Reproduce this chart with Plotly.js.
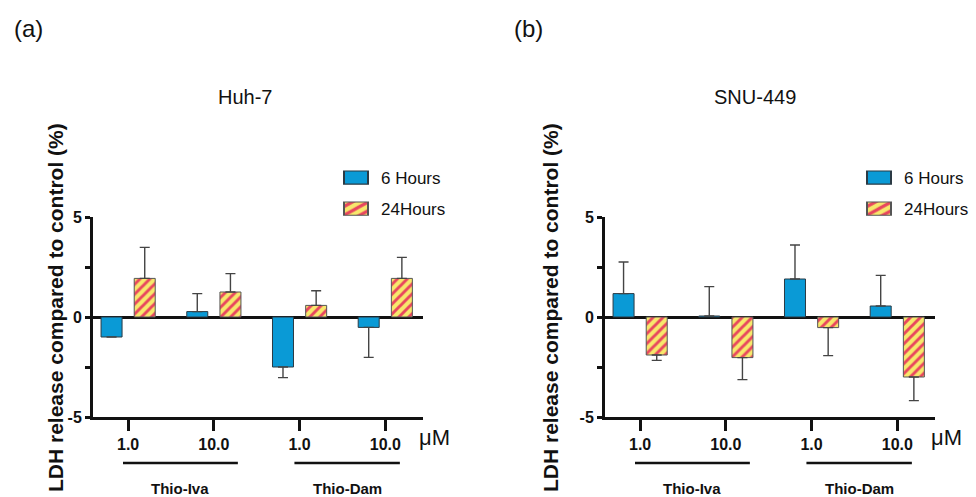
<!DOCTYPE html>
<html>
<head>
<meta charset="utf-8">
<script src="https://cdn.plot.ly/plotly-3.0.1.min.js"></script>
<style>html,body{margin:0;padding:0;background:#fff;}#chart{width:976px;height:497px;}</style>
</head>
<body>
<div id="chart"></div>
<script>
// ---- data ----
const doseLabels = ['1.0', '10.0', '1.0', '10.0'];
const doseUnit = 'μM';
const drugGroups = ['Thio-Iva', 'Thio-Dam'];
const seriesNames = ['6 Hours', '24Hours'];
const panelTitles = ['Huh-7', 'SNU-449'];
const panelLetters = ['(a)', '(b)'];
const yTitle = 'LDH release compared to control (%)';

const huh7_6h = [-1.0, 0.27, -2.5, -0.52];
const huh7_6h_err = [0.0, 0.9, 0.53, 1.5];
const huh7_24h = [1.93, 1.25, 0.58, 1.93];
const huh7_24h_err = [1.55, 0.92, 0.73, 1.05];

const snu_6h = [1.17, 0.05, 1.9, 0.55];
const snu_6h_err = [1.58, 1.47, 1.7, 1.53];
const snu_24h = [-1.9, -2.03, -0.53, -3.0];
const snu_24h_err = [0.27, 1.1, 1.4, 1.18];

const yTickVals = [-5, -2.5, 0, 2.5, 5];
const yTickText = ['-5', '', '0', '', '5'];

// ---- styling ----
const FONT = 'Liberation Sans, Arial, sans-serif';
const W = 976, H = 497;
const px = v => v / W;
const py = v => 1 - v / H;
const xpos = doseLabels.map((_, i) => i);

function upErr(vals, errs) { return vals.map((v, i) => v >= 0 ? errs[i] : 0); }
function downErr(vals, errs) { return vals.map((v, i) => v < 0 ? errs[i] : 0); }

const blueMarker = {color: '#0a9ad6', line: {color: '#2b3a44', width: 1}};
const hatchMarker = {
  color: '#f7e86c',
  line: {color: '#555', width: 1},
  pattern: {shape: '/', bgcolor: '#f7e86c', fgcolor: '#e8465e', size: 7, solidity: 0.42}
};

function barTrace(vals, errs, name, marker, ax, legend, offset, showleg) {
  return {
    type: 'bar', x: xpos, y: vals, name: name,
    xaxis: ax[0], yaxis: ax[1], legend: legend,
    width: 0.245, offset: offset, marker: marker,
    showlegend: showleg, legendgroup: legend + name,
    error_y: {type: 'data', symmetric: false, array: upErr(vals, errs), arrayminus: downErr(vals, errs),
      color: '#444', thickness: 1.4, width: 5},
    hoverinfo: 'skip'
  };
}

const data = [
  barTrace(huh7_6h, huh7_6h_err, seriesNames[0], blueMarker, ['x', 'y'], 'legend', -0.316, true),
  barTrace(huh7_24h, huh7_24h_err, seriesNames[1], hatchMarker, ['x', 'y'], 'legend', 0.071, true),
  barTrace(snu_6h, snu_6h_err, seriesNames[0], blueMarker, ['x2', 'y2'], 'legend2', -0.316, true),
  barTrace(snu_24h, snu_24h_err, seriesNames[1], hatchMarker, ['x2', 'y2'], 'legend2', 0.071, true)
];

function xAxis(domain, anchor) {
  return {
    domain: domain, anchor: anchor, range: [-0.41, 3.44],
    showline: true, linewidth: 3, linecolor: '#111', mirror: false,
    ticks: 'outside', ticklen: 11, tickwidth: 3, tickcolor: '#111',
    tickvals: xpos, ticktext: doseLabels,
    tickfont: {family: FONT, size: 16, weight: 'bold', color: '#111'},
    showgrid: false, zeroline: false, fixedrange: true
  };
}
function yAxis(anchor) {
  return {
    domain: [py(417), py(217)], anchor: anchor, range: [-5, 5],
    showline: true, linewidth: 3, linecolor: '#111',
    ticks: 'outside', ticklen: 5, tickwidth: 3, tickcolor: '#111',
    tickvals: yTickVals, ticktext: yTickText,
    tickfont: {family: FONT, size: 16, weight: 'bold', color: '#111'},
    showgrid: false, zeroline: true, zerolinewidth: 3, zerolinecolor: '#111', fixedrange: true
  };
}

const panels = [
  {xa: 'x', titleX: 245, letterX: 28, yTitleX: 55, unitX: 434, legX: 331, lines: [[-0.06, 1.28], [1.94, 3.17]]},
  {xa: 'x2', titleX: 755, letterX: 528, yTitleX: 550, unitX: 946, legX: 854, lines: [[-0.06, 1.28], [1.94, 3.17]]}
];

const annotations = [];
const shapes = [];
panels.forEach((p, k) => {
  annotations.push({xref: 'paper', yref: 'paper', x: px(p.letterX), y: py(28), text: panelLetters[k], showarrow: false,
    xanchor: 'center', yanchor: 'middle', font: {family: FONT, size: 24, color: '#111'}});
  annotations.push({xref: 'paper', yref: 'paper', x: px(p.titleX), y: py(97), text: panelTitles[k], showarrow: false,
    xanchor: 'center', yanchor: 'middle', font: {family: FONT, size: 20, color: '#111'}});
  annotations.push({xref: 'paper', yref: 'paper', x: px(p.yTitleX), y: py(308), text: yTitle, showarrow: false, textangle: -90,
    xanchor: 'center', yanchor: 'middle', font: {family: FONT, size: 21, weight: 'bold', color: '#111'}});
  annotations.push({xref: 'paper', yref: 'paper', x: px(p.unitX), y: py(437), text: doseUnit, showarrow: false,
    xanchor: 'center', yanchor: 'middle', font: {family: FONT, size: 22, color: '#111'}});
  drugGroups.forEach((g, j) => {
    const [a, b] = p.lines[j];
    shapes.push({type: 'line', xref: p.xa, yref: 'paper', x0: a, x1: b, y0: py(463), y1: py(463),
      line: {color: '#111', width: 2.5}});
    annotations.push({xref: p.xa, yref: 'paper', x: (a + b) / 2, y: py(488), text: g, showarrow: false,
      xanchor: 'center', yanchor: 'middle', font: {family: FONT, size: 15, weight: 'bold', color: '#111'}});
  });
});

const legendStyle = (x) => ({
  x: px(x), y: py(160), xanchor: 'left', yanchor: 'top', bgcolor: 'rgba(0,0,0,0)',
  font: {family: FONT, size: 17, color: '#111'}, tracegroupgap: 6, traceorder: 'grouped', borderwidth: 0,
  itemwidth: 40
});

const layout = {
  width: W, height: H,
  margin: {l: 0, r: 0, t: 0, b: 0},
  paper_bgcolor: '#fff', plot_bgcolor: 'rgba(0,0,0,0)',
  barmode: 'overlay',
  xaxis: xAxis([px(93), px(423)], 'y'),
  yaxis: yAxis('x'),
  xaxis2: xAxis([px(605), px(935)], 'y2'),
  yaxis2: yAxis('x2'),
  legend: legendStyle(panels[0].legX),
  legend2: legendStyle(panels[1].legX),
  annotations: annotations,
  shapes: shapes,
  font: {family: FONT}
};

Plotly.newPlot('chart', data, layout, {displayModeBar: false, staticPlot: true}).then(() => {
  // widen the legend swatches to the reference's rectangular keys
  document.querySelectorAll('#chart .legendpoints path').forEach(p => {
    const t = p.getAttribute('transform') || '';
    p.setAttribute('transform', t + ' scale(2,1.1)');
  });
});
</script>
</body>
</html>
